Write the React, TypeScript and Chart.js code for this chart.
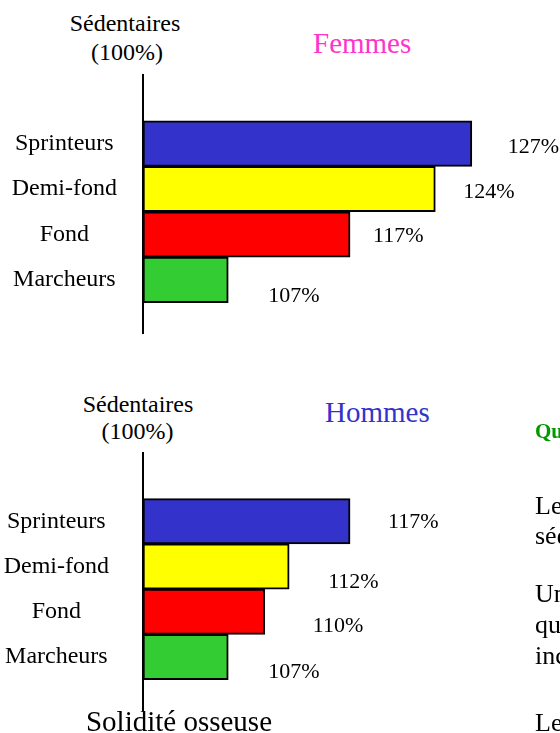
import React, { useEffect, useRef } from "react";
import { Chart, registerables } from "chart.js";

Chart.register(...registerables);

// ---- data ----
const categories = ["Sprinteurs", "Demi-fond", "Fond", "Marcheurs"];
const femmesValues = [127, 124, 117, 107];
const hommesValues = [117, 112, 110, 107];
const barColors = ["#3333cc", "#ffff00", "#ff0000", "#33cc33"];
const baseValue = 100;
const femmesTitle = "Femmes";
const hommesTitle = "Hommes";
const refLine1 = "Sédentaires";
const refLine2 = "(100%)";
const footer = "Solidité osseuse";
const sideHeading = "Qu";
const sideLines = ["Le", "séd", "Un", "qu", "inc", "Le"];

const FONT = '"Liberation Serif", "Times New Roman", Times, serif';
const PX_PER_UNIT = 12.18;
const CANVAS_W = 560;
const AXIS_X = 143;

type PanelProps = {
  values: number[];
  top: number;
  height: number;
  tickPadding: number;
  labelDx: number[];
  labelDy: number[];
};

function BarPanel({ values, top, height, tickPadding, labelDx, labelDy }: PanelProps) {
  const ref = useRef<HTMLCanvasElement | null>(null);
  useEffect(() => {
    if (!ref.current) return;
    const valueLabels = {
      id: "valueLabels",
      afterDatasetsDraw(chart: any) {
        const ctx = chart.ctx;
        const meta = chart.getDatasetMeta(0);
        ctx.save();
        ctx.font = `22px ${FONT}`;
        ctx.fillStyle = "#000";
        ctx.textAlign = "left";
        ctx.textBaseline = "alphabetic";
        meta.data.forEach((el: any, i: number) => {
          ctx.fillText(`${values[i]}%`, el.x + labelDx[i], el.y + labelDy[i]);
        });
        ctx.restore();
      },
    };
    const chart = new Chart(ref.current, {
      type: "bar",
      data: {
        datasets: [
          {
            data: values.map((v, i) => ({ x: v, y: i + 1 })),
            backgroundColor: barColors,
            borderColor: "#000",
            borderWidth: 2,
            borderSkipped: false,
            base: baseValue,
            barPercentage: 1,
            categoryPercentage: 1,
          } as any,
        ],
      },
      options: {
        indexAxis: "y",
        animation: false,
        responsive: false,
        devicePixelRatio: 1,
        layout: { padding: { top: 20, bottom: 20, left: 0, right: 0 } },
        plugins: { legend: { display: false }, tooltip: { enabled: false } },
        scales: {
          x: {
            type: "linear",
            display: false,
            offset: false,
            min: baseValue,
            max: baseValue + (CANVAS_W - AXIS_X) / PX_PER_UNIT,
          },
          y: {
            type: "linear",
            reverse: true,
            offset: false,
            min: -0.51,
            max: 5.17,
            grid: { display: false, drawTicks: false, offset: false },
            border: { display: true, color: "#000", width: 2 },
            afterBuildTicks: (axis: any) => {
              axis.ticks = categories.map((_, i) => ({ value: i + 1 }));
            },
            afterFit: (scale: any) => {
              scale.width = AXIS_X;
              scale.paddingTop = 0;
              scale.paddingBottom = 0;
            },
            ticks: {
              crossAlign: "center",
              padding: tickPadding,
              color: "#000",
              font: { family: FONT, size: 24 },
              callback: (v: any) => categories[Number(v) - 1] ?? "",
            },
          } as any,
        },
      },
      plugins: [valueLabels],
    });
    return () => chart.destroy();
  }, []);
  return (
    <canvas
      ref={ref}
      width={CANVAS_W}
      height={height}
      style={{ position: "absolute", left: 0, top, width: CANVAS_W, height }}
    />
  );
}

function Txt({
  text,
  left,
  top,
  size,
  color = "#000",
  bold = false,
  center = false,
}: {
  text: string;
  left: number;
  top: number;
  size: number;
  color?: string;
  bold?: boolean;
  center?: boolean;
}) {
  const style: React.CSSProperties = {
    position: "absolute",
    top,
    fontFamily: FONT,
    fontSize: size,
    lineHeight: `${size}px`,
    color,
    fontWeight: bold ? "bold" : "normal",
    whiteSpace: "nowrap",
  };
  if (center) {
    style.left = left - 150;
    style.width = 300;
    style.textAlign = "center";
  } else {
    style.left = left;
  }
  return <div style={style}>{text}</div>;
}

export default function App() {
  return (
    <div
      style={{
        position: "absolute",
        left: 0,
        top: 0,
        width: 560,
        height: 733,
        overflow: "hidden",
        background: "#fff",
      }}
    >
      <Txt text={refLine1} left={125} top={10.6} size={24} center />
      <Txt text={refLine2} left={127} top={40} size={24} center />
      <Txt text={femmesTitle} left={313} top={29} size={29} color="#ff33cc" />
      <BarPanel
        values={femmesValues}
        top={55}
        height={298}
        tickPadding={26}
        labelDx={[36, 28, 23, 40]}
        labelDy={[9.5, 8.5, 8, 22]}
      />

      <Txt text={refLine1} left={138} top={391.6} size={24} center />
      <Txt text={refLine2} left={137.5} top={419} size={24} center />
      <Txt text={hommesTitle} left={325} top={398.4} size={29} color="#3333cc" />
      <BarPanel
        values={hommesValues}
        top={433}
        height={297}
        tickPadding={34}
        labelDx={[38, 39, 48, 40]}
        labelDy={[6.5, 21, 20.5, 20.5]}
      />
      <Txt text={footer} left={179} top={706.7} size={29} center />

      <Txt text={sideHeading} left={535} top={421} size={21} color="#009900" bold />
      <Txt text={sideLines[0]} left={535} top={493} size={26} />
      <Txt text={sideLines[1]} left={535} top={523} size={26} />
      <Txt text={sideLines[2]} left={535} top={581} size={26} />
      <Txt text={sideLines[3]} left={535} top={612} size={26} />
      <Txt text={sideLines[4]} left={535} top={643} size={26} />
      <Txt text={sideLines[5]} left={535} top={710} size={26} />
    </div>
  );
}
